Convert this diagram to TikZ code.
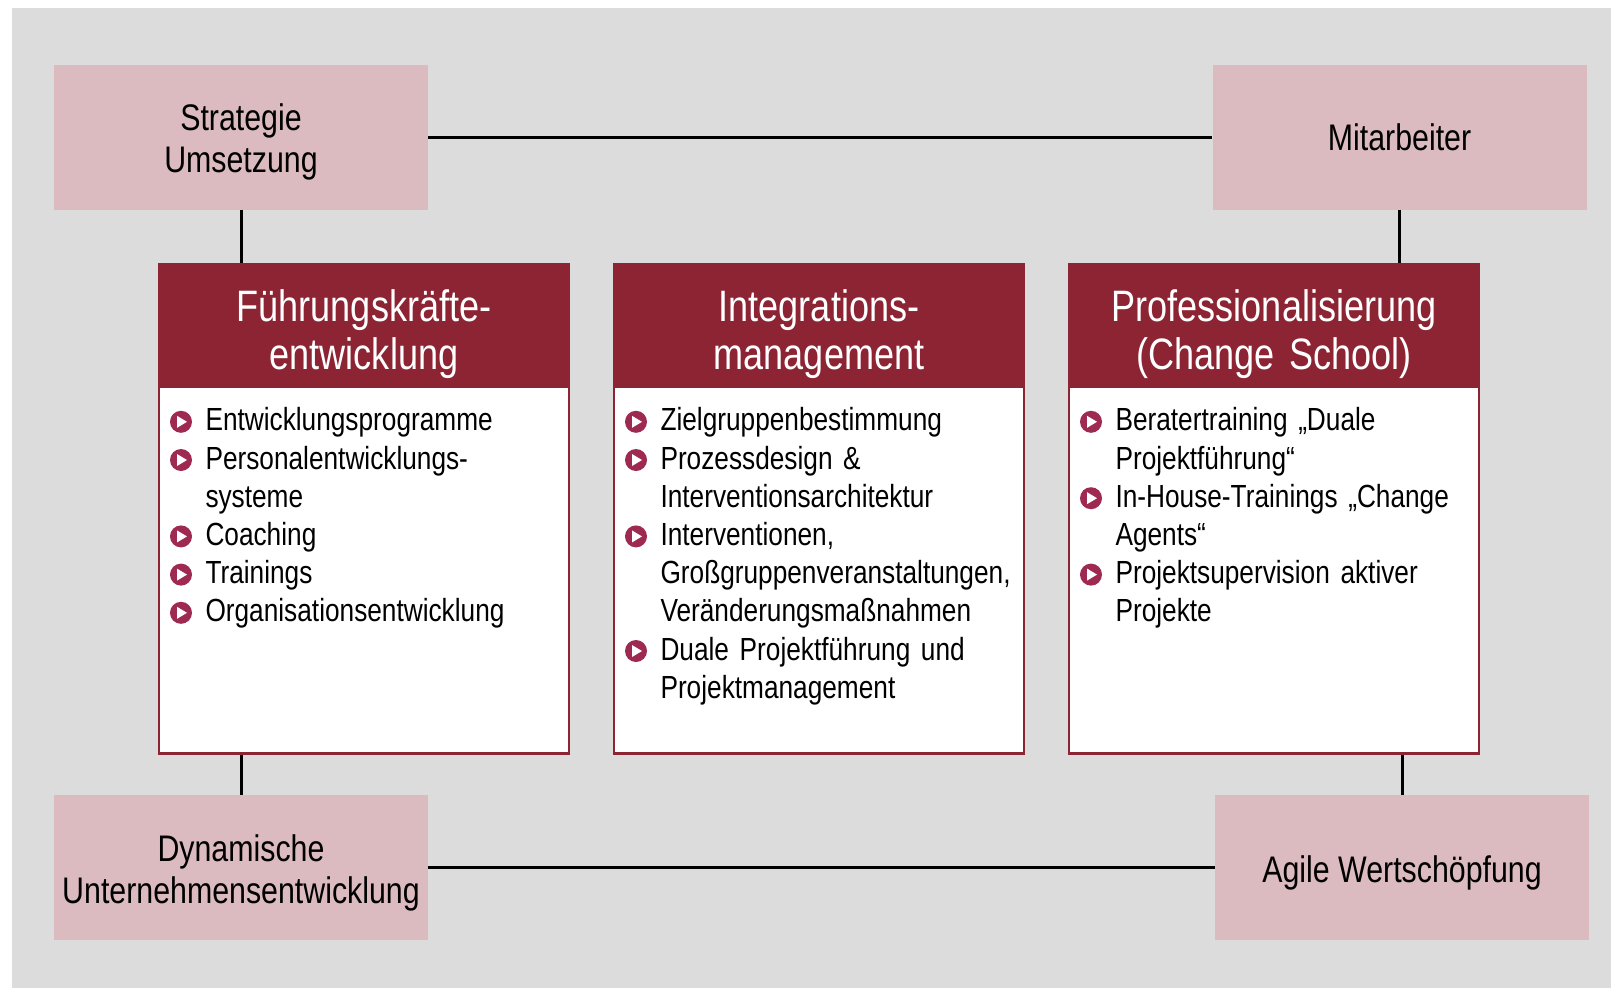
\documentclass[tikz,border=0pt]{standalone}
\usepackage{fontspec}
\setmainfont[FakeStretch=0.82]{Liberation Sans}
\usetikzlibrary{positioning}

\definecolor{bggray}{HTML}{DCDCDC}
\definecolor{rosefill}{HTML}{DBBBC0}
\definecolor{darkred}{HTML}{8C2433}
\definecolor{bulletred}{HTML}{9E2A52}

\hyphenpenalty=10000

% bullet with white triangle
\newcommand{\bulletmark}{\tikz[baseline=-9pt]{%
  \fill[bulletred] (0pt,0pt) circle (11pt);
  \fill[white] (-4pt,6pt) -- (6pt,0pt) -- (-4pt,-6pt) -- cycle;}}
% pushes the text of a box a little down
\newcommand{\lowerline}{\rule{0pt}{37pt}}
% fixed word space
\newcommand{\fixspace}{\spaceskip=0.228em\relax}

\newenvironment{itemlist}{\begin{list}{\bulletmark}{%
  \setlength{\leftmargin}{46.5pt}\setlength{\labelwidth}{22pt}%
  \setlength{\labelsep}{13.5pt}\setlength{\itemsep}{0pt}%
  \setlength{\parsep}{0pt}\setlength{\topsep}{0pt}\setlength{\partopsep}{0pt}}%
  \raggedright}%
  {\end{list}}

\begin{document}
\begin{tikzpicture}[x=1pt, y=-1pt,
  cornerbox/.style={fill=rosefill, minimum width=374pt, minimum height=145pt,
    inner sep=0pt, align=center, font=\fontsize{37}{42}\selectfont\fixspace},
  frame/.style={draw=darkred, line width=2.5pt, fill=white, minimum width=410pt,
    minimum height=489pt, inner sep=0pt},
  head/.style={fill=darkred, minimum width=410pt, minimum height=125pt, inner sep=0pt},
  headtext/.style={text=white, inner sep=0pt, text width=400pt, align=center,
    font=\fontsize{44}{48}\selectfont\fixspace},
  items/.style={inner sep=0pt, text width=405pt, align=left,
    font=\fontsize{32}{38.2}\selectfont\fixspace},
  conn/.style={line width=3pt}]

% Background
\useasboundingbox (0,0) rectangle (1611,988);
\fill[bggray] (12,8) rectangle (1611,988);

% Corner boxes
\node[cornerbox] (strat) at (241,137) {\lowerline Strategie\\Umsetzung};
\node[cornerbox] (mit) at (1399.5,137) {Mitarbeiter};
\node[cornerbox] (dyn) at (241,867.5) {\lowerline Dynamische\\Unternehmensentwicklung};
\node[cornerbox] (agile) at (1402,867.5) {\lowerline Agile Wertschöpfung};

% Big boxes
\node[frame, anchor=north] (fk) at (364,263) {};
\node[frame, right=42.5pt of fk] (int) {};
\node[frame, right=42.5pt of int] (pro) {};

\node[head, anchor=north] (fkhead) at (fk.north) {};
\node[head, anchor=north] (inthead) at (int.north) {};
\node[head, anchor=north] (prohead) at (pro.north) {};

\node[headtext] (fktitle) at ([yshift=-8pt]fkhead.center) {Führungskräfte-\\entwicklung};
\node[headtext] (inttitle) at ([yshift=-8pt]inthead.center) {Integrations-\\management};
\node[headtext] (protitle) at ([yshift=-8pt]prohead.center) {Professionalisierung\\(Change School)};

% Lists
\node[items, anchor=north west] (fkitems) at ([yshift=-4pt]fkhead.south west) {%
  \begin{itemlist}
  \item Entwicklungsprogramme
  \item Personalentwicklungs-\newline systeme
  \item Coaching
  \item Trainings
  \item Organisationsentwicklung
  \end{itemlist}};
\node[items, anchor=north west] (intitems) at ([yshift=-4pt]inthead.south west) {%
  \begin{itemlist}
  \item Zielgruppenbestimmung
  \item Prozessdesign \&\newline Interventionsarchitektur
  \item Interventionen,\newline Großgruppenveranstaltungen,\newline Veränderungsmaßnahmen
  \item Duale Projektführung und\newline Projektmanagement
  \end{itemlist}};
\node[items, anchor=north west] (proitems) at ([yshift=-4pt]prohead.south west) {%
  \begin{itemlist}
  \item Beratertraining „Duale\newline Projektführung“
  \item In-House-Trainings „Change\newline Agents“
  \item Projektsupervision aktiver\newline Projekte
  \end{itemlist}};

% Lines
\draw[conn] (strat) -- (mit);
\draw[conn] (dyn) -- (agile);
\draw[conn] (strat.south) -- (strat.south |- fk.north);
\draw[conn] (mit.south) -- (mit.south |- pro.north);
\draw[conn] (dyn.north) -- (dyn.north |- fk.south);
\draw[conn] (agile.north) -- (agile.north |- pro.south);

\end{tikzpicture}
\end{document}
